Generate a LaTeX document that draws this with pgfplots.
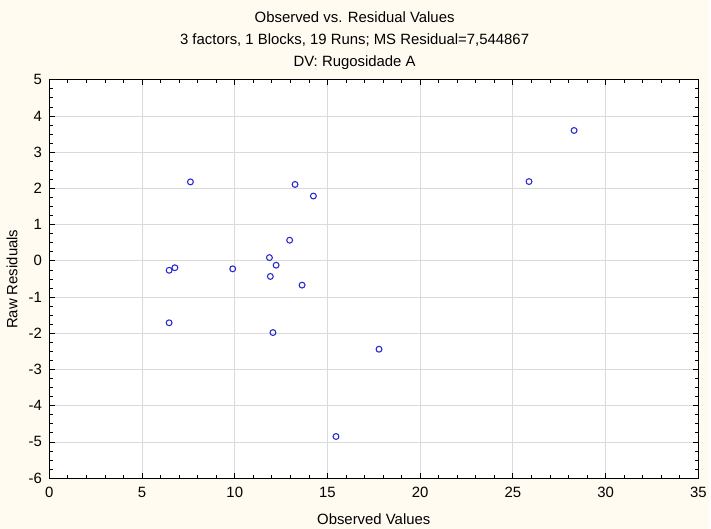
\documentclass[border=0pt]{standalone}
\usepackage{pgfplots}
\pgfplotsset{compat=1.18}
\usepackage{fontspec}
\setmainfont{Liberation Sans}
\definecolor{bgcream}{RGB}{255,251,240}
\definecolor{mkblue}{RGB}{40,40,210}
\definecolor{gridgray}{RGB}{218,218,218}
\pgfplotstableread{
x y
7.61 2.18
13.25 2.11
14.24 1.79
12.96 0.57
11.87 0.09
12.23 -0.12
11.92 -0.43
13.63 -0.67
6.77 -0.19
6.46 -0.26
9.89 -0.22
6.46 -1.71
12.06 -1.98
17.78 -2.44
15.46 -4.85
25.87 2.19
28.30 3.60
}\resid
\begin{document}
\begin{tikzpicture}
\fill[bgcream] (0,0) rectangle (533.25pt,397.5pt);
\begin{axis}[
  at={(37.1pt,38.0pt)}, anchor=south west,
  scale only axis, width=487.9pt, height=299.5pt,
  xmin=0, xmax=35, ymin=-6, ymax=5,
  xtick={0,5,...,35}, ytick={-6,-5,...,5},
  minor x tick num=4, minor y tick num=3,
  tick align=inside,
  major tick length=4pt, minor tick length=2.5pt,
  grid=major, major grid style={gridgray, line width=0.6pt},
  axis background/.style={fill=white},
  axis line style={line width=0.75pt},
  every tick/.style={black, line width=0.6pt},
  tick label style={font=\fontsize{11.2}{13}\selectfont},
  /pgf/number format/assume math mode=true,
  xticklabel style={yshift=-3.5pt},
  yticklabel style={xshift=-2pt},
]
\addplot[only marks, mark=o, mark size=2.2pt, mark options={mkblue, line width=0.8pt}] table[x=x,y=y] {\resid};
\end{axis}
\node[font=\fontsize{11.2}{13}\selectfont] at (266.6pt,384.75pt) {Observed vs. Residual Values};
\node[font=\fontsize{11.2}{13}\selectfont] at (266.6pt,367.5pt) {3 factors, 1 Blocks, 19 Runs; MS Residual=7,544867};
\node[font=\fontsize{11.2}{13}\selectfont] at (266.6pt,350.25pt) {DV: Rugosidade A};
\node[font=\fontsize{11.2}{13}\selectfont] at (281pt,7.5pt) {Observed Values};
\node[font=\fontsize{11.2}{13}\selectfont, rotate=90] at (9pt,187.5pt) {Raw Residuals};
\end{tikzpicture}
\end{document}
